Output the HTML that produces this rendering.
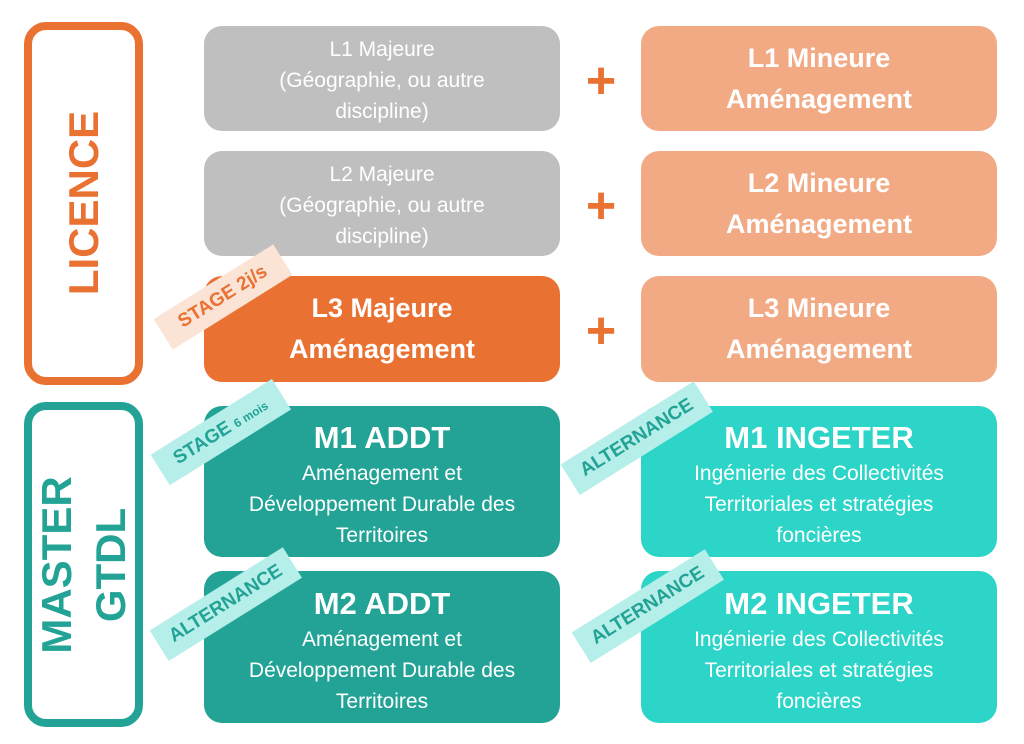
<!DOCTYPE html>
<html><head><meta charset="utf-8"><style>
body{margin:0;width:1024px;height:744px;background:#fff;position:relative;overflow:hidden;font-family:"Liberation Sans",sans-serif;}
.b{position:absolute;border-radius:18px;color:#fff;display:flex;flex-direction:column;justify-content:center;align-items:center;text-align:center;}
.g{background:#BFBFBF;font-size:21px;line-height:31px;}
.lo{background:#F2AA84;font-size:27px;font-weight:bold;line-height:41px;}
.o{background:#E97132;font-size:27px;font-weight:bold;line-height:41px;}
.td{background:#22A396;}
.tl{background:#2DD4C8;}
.t{font-size:31px;font-weight:bold;line-height:40px;margin-top:6px;}
.s{font-size:21px;line-height:31px;}
.L{left:204px;width:356px;}
.R{left:641px;width:356px;}
.plus{position:absolute;left:580px;width:42px;text-align:center;color:#E97132;font-size:52px;font-weight:bold;line-height:40px;}
.frame{position:absolute;left:24px;width:103px;border:8px solid;border-radius:22px;}
.vt{position:absolute;font-weight:bold;font-size:42px;transform:translate(-50%,-50%) rotate(-90deg);white-space:nowrap;line-height:44px;}
.tag{position:absolute;font-weight:bold;font-size:19px;white-space:nowrap;padding:7px 14px;transform:translate(-50%,-50%) rotate(-32deg);}
.c{background:#B6EEEA;color:#22A395;}
</style></head><body>
<div class="frame" style="top:22px;height:347px;border-color:#E97132"></div>
<div class="vt" style="left:84px;top:203px;color:#E97132">LICENCE</div>
<div class="frame" style="top:402px;height:309px;border-color:#22A395"></div>
<div class="vt" style="left:84px;top:565px;color:#22A395;text-align:center;line-height:54px">MASTER<br>GTDL</div>

<div class="b g L" style="top:26px;height:105px;padding-top:4px;box-sizing:border-box">L1 Majeure<br>(Géographie, ou autre<br>discipline)</div>
<div class="b lo R" style="top:26px;height:105px">L1 Mineure<br>Aménagement</div>
<div class="plus" style="top:61px">+</div>

<div class="b g L" style="top:151px;height:105px;padding-top:4px;box-sizing:border-box">L2 Majeure<br>(Géographie, ou autre<br>discipline)</div>
<div class="b lo R" style="top:151px;height:105px">L2 Mineure<br>Aménagement</div>
<div class="plus" style="top:186px">+</div>

<div class="b o L" style="top:276px;height:106px">L3 Majeure<br>Aménagement</div>
<div class="b lo R" style="top:276px;height:106px">L3 Mineure<br>Aménagement</div>
<div class="plus" style="top:311px">+</div>

<div class="b td L" style="top:406px;height:151px"><div class="t">M1 ADDT</div><div class="s">Aménagement et<br>Développement Durable des<br>Territoires</div></div>
<div class="b tl R" style="top:406px;height:151px"><div class="t">M1 INGETER</div><div class="s">Ingénierie des Collectivités<br>Territoriales et stratégies<br>foncières</div></div>
<div class="b td L" style="top:571px;height:152px"><div class="t">M2 ADDT</div><div class="s">Aménagement et<br>Développement Durable des<br>Territoires</div></div>
<div class="b tl R" style="top:571px;height:152px"><div class="t">M2 INGETER</div><div class="s">Ingénierie des Collectivités<br>Territoriales et stratégies<br>foncières</div></div>

<div class="tag" style="left:223px;top:297px;background:#FBE3D6;color:#E97132;padding:7px 20px">STAGE 2j/s</div>
<div class="tag c" style="left:221px;top:432px;padding:7px 18px">STAGE <span style="font-size:12px">6 mois</span></div>
<div class="tag c" style="left:637px;top:438px">ALTERNANCE</div>
<div class="tag c" style="left:226px;top:604px">ALTERNANCE</div>
<div class="tag c" style="left:648px;top:606px">ALTERNANCE</div>
</body></html>
